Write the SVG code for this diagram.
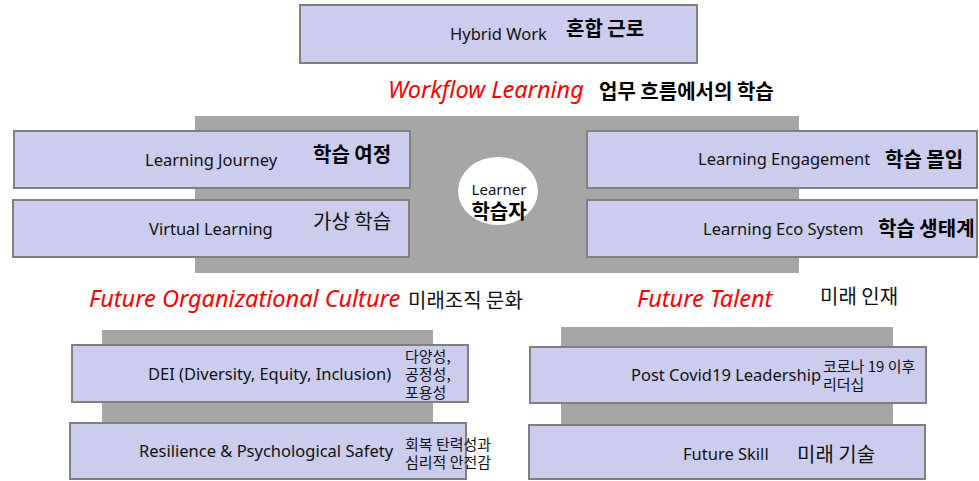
<svg xmlns="http://www.w3.org/2000/svg" width="979" height="481" viewBox="0 0 979 481">
<style>
  .band { fill: #A6A6A6; }
  .box { fill: #CCCCEE; stroke: #808080; stroke-width: 2; }
  .en { font-family: "Noto Sans", "Noto Sans CJK KR", sans-serif; font-size: 16.5px; fill: #111; }
  .ko { font-family: "Noto Sans CJK KR", "Noto Sans", sans-serif; font-size: 20px; fill: #111; }
  .kob { font-family: "Noto Sans CJK KR", "Noto Sans", sans-serif; font-weight: bold; font-size: 20px; fill: #000; }
  .red { font-family: "Noto Sans", sans-serif; font-style: italic; font-size: 23.5px; fill: #FF0000; }
  .small { font-size: 15px; }
</style>
<rect width="979" height="481" fill="#FFFFFF"/>
<g id="bands">
  <rect class="band" x="195" y="116" width="604" height="157"/>
  <rect class="band" x="102" y="330" width="331" height="95"/>
  <rect class="band" x="561" y="327" width="332" height="98"/>
</g>
<g id="connectors"></g>
<g id="hybrid-work">
  <rect class="box" x="300" y="5" width="397" height="58"/>
  <text class="en" x="450" y="40">Hybrid Work</text>
  <text class="kob" x="566" y="36">혼합 근로</text>
</g>
<g id="workflow-learning">
  <text class="red" x="388" y="98">Workflow Learning</text>
  <text class="kob" x="599" y="99">업무 흐름에서의 학습</text>
</g>
<g id="learning-journey">
  <rect class="box" x="14" y="131" width="396" height="57"/>
  <text class="en" x="145" y="166">Learning Journey</text>
  <text class="kob" x="313" y="162">학습 여정</text>
</g>
<g id="virtual-learning">
  <rect class="box" x="13" y="200" width="396" height="57"/>
  <text class="en" x="149" y="235">Virtual Learning</text>
  <text class="ko" x="313" y="229">가상 학습</text>
</g>
<g id="learning-engagement">
  <rect class="box" x="587" y="131" width="390" height="57"/>
  <text class="en" x="698" y="165">Learning Engagement</text>
  <text class="kob" x="885" y="167">학습 몰입</text>
</g>
<g id="learning-eco-system">
  <rect class="box" x="587" y="200" width="390" height="57"/>
  <text class="en" x="703" y="235">Learning Eco System</text>
  <text class="kob" x="878" y="236">학습 생태계</text>
</g>
<g id="learner">
  <ellipse cx="498" cy="191" rx="40" ry="34" fill="#FFFFFF"/>
  <text class="en" x="499" y="195" text-anchor="middle" style="font-size:15px">Learner</text>
  <text class="kob" x="499" y="219" text-anchor="middle">학습자</text>
</g>
<g id="future-organizational-culture">
  <text class="red" x="89" y="307">Future Organizational Culture</text>
  <text class="ko" x="408" y="308">미래조직 문화</text>
</g>
<g id="dei">
  <rect class="box" x="72" y="345" width="396" height="57"/>
  <text class="en" x="148" y="380">DEI (Diversity, Equity, Inclusion)</text>
  <text class="ko small" x="405" y="362">다양성,</text>
  <text class="ko small" x="405" y="380">공정성,</text>
  <text class="ko small" x="405" y="398">포용성</text>
</g>
<g id="resilience">
  <rect class="box" x="70" y="423" width="396" height="56"/>
  <text class="en" x="139" y="457">Resilience &amp; Psychological Safety</text>
  <text class="ko small" x="405" y="450">회복 탄력성과</text>
  <text class="ko small" x="405" y="468">심리적 안전감</text>
</g>
<g id="future-talent">
  <text class="red" x="637" y="307">Future Talent</text>
  <text class="ko" x="820" y="304">미래 인재</text>
</g>
<g id="post-covid-leadership">
  <rect class="box" x="530" y="347" width="396" height="56"/>
  <text class="en" x="631" y="381">Post Covid19 Leadership</text>
  <text class="ko small" x="823" y="372">코로나 19 이후</text>
  <text class="ko small" x="823" y="390">리더십</text>
</g>
<g id="future-skill">
  <rect class="box" x="529" y="425" width="396" height="54"/>
  <text class="en" x="683" y="460">Future Skill</text>
  <text class="ko" x="797" y="462">미래 기술</text>
</g>
</svg>
